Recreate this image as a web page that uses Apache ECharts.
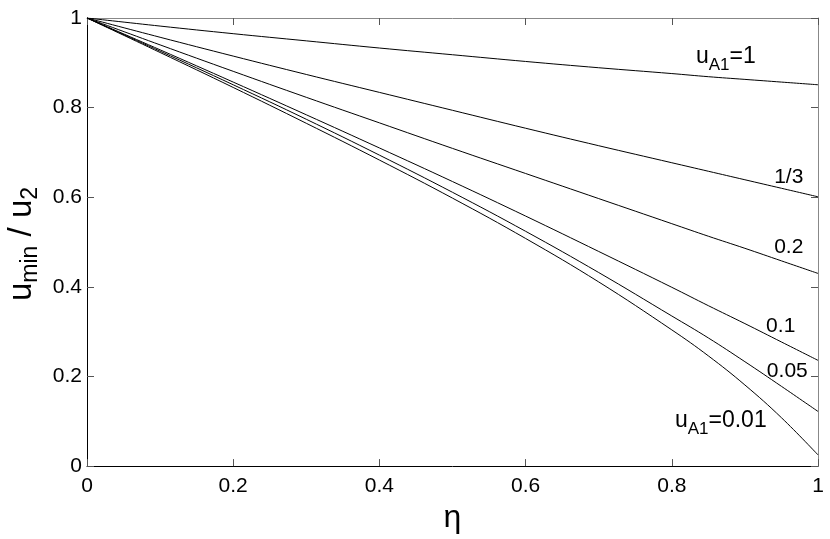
<!DOCTYPE html>
<html>
<head>
<meta charset="utf-8">
<script src="https://cdn.jsdelivr.net/npm/echarts@6/dist/echarts.min.js"></script>
<style>
  html, body { margin: 0; padding: 0; background: #fff; }
  #chart { width: 830px; height: 539px; }
</style>
</head>
<body>
<div id="chart"></div>
<script>
// eta grid (x) and u_min/u_2 for each u_A1
var eta = [0, 0.1, 0.2, 0.3, 0.4, 0.5, 0.6, 0.7, 0.8, 0.85, 0.9, 0.95, 1];
var uA1_1    = [1, 0.982, 0.965, 0.949, 0.933, 0.918, 0.903, 0.889, 0.876, 0.869, 0.863, 0.857, 0.851];
var uA1_1_3  = [1, 0.957, 0.915, 0.874, 0.834, 0.794, 0.754, 0.715, 0.677, 0.658, 0.639, 0.620, 0.601];
var uA1_0_2  = [1, 0.940, 0.881, 0.823, 0.766, 0.709, 0.653, 0.597, 0.541, 0.513, 0.486, 0.458, 0.430];
var uA1_0_1  = [1, 0.929, 0.857, 0.784, 0.710, 0.635, 0.558, 0.479, 0.399, 0.358, 0.318, 0.277, 0.236];
var uA1_0_05 = [1, 0.926, 0.851, 0.774, 0.694, 0.611, 0.524, 0.432, 0.335, 0.286, 0.233, 0.178, 0.122];
var uA1_0_01 = [1, 0.923, 0.845, 0.765, 0.683, 0.598, 0.508, 0.411, 0.304, 0.246, 0.181, 0.108, 0.025];

var curves = [uA1_1, uA1_1_3, uA1_0_2, uA1_0_1, uA1_0_05, uA1_0_01];
var curveLabels = ["{m|u}{s|A1}{m|=1}", "{n|1/3}", "{n|0.2}", "{n|0.1}", "{n|0.05}", "{m|u}{s|A1}{m|=0.01}"];
var labelAt = [[0.874, 0.913], [0.960, 0.645], [0.960, 0.489], [0.949, 0.313], [0.958, 0.212], [0.867, 0.101]];

var xMin = 0, xMax = 1, xStep = 0.2;
var yMin = 0, yMax = 1, yStep = 0.2;

var FONT = "Liberation Sans, Arial, Helvetica, sans-serif";

var labelRich = {
  m: { fontFamily: FONT, fontSize: 23, color: "#000" },
  s: { fontFamily: FONT, fontSize: 17, color: "#000", padding: [17, 0, 0, 0] },
  n: { fontFamily: FONT, fontSize: 21, color: "#000" },
};

var myChart = echarts.init(document.getElementById("chart"));

var series = [];
for (var i = 0; i < curves.length; i++) {
  var pts = [];
  for (var j = 0; j < eta.length; j++) { pts.push([eta[j], curves[i][j]]); }
  series.push({
    type: "line",
    data: pts,
    showSymbol: false,
    smooth: 0.4,
    silent: true,
    lineStyle: { color: "#000", width: 1 },
    markPoint: {
      symbol: "circle",
      symbolSize: 0,
      silent: true,
      data: [{ coord: labelAt[i], value: 0 }],
      label: {
        show: true,
        position: "inside",
        formatter: curveLabels[i],
        rich: labelRich,
      },
    },
  });
}

function tick() {
  return { show: true, inside: true, length: 7, lineStyle: { color: "#555", width: 1 } };
}

var option = {
  animation: false,
  backgroundColor: "#fff",
  grid: { left: 87, right: 12, top: 18, bottom: 70 },
  xAxis: [
    {
      type: "value",
      position: "bottom",
      min: xMin, max: xMax, interval: xStep,
      name: "η",
      nameLocation: "middle",
      nameGap: 29,
      nameTextStyle: { fontFamily: FONT, fontSize: 32, color: "#000" },
      axisLine: { show: true, onZero: false, lineStyle: { color: "#000", width: 1 } },
      axisTick: tick(),
      axisLabel: { fontFamily: FONT, fontSize: 21, color: "#000", margin: 10 },
      splitLine: { show: false },
    },
    {
      type: "value",
      position: "top",
      min: xMin, max: xMax, interval: xStep,
      axisLine: { show: true, onZero: false, lineStyle: { color: "#888", width: 1 } },
      axisTick: tick(),
      axisLabel: { show: false },
      splitLine: { show: false },
    },
  ],
  yAxis: [
    {
      type: "value",
      position: "left",
      min: yMin, max: yMax, interval: yStep,
      axisLine: { show: true, onZero: false, lineStyle: { color: "#000", width: 1 } },
      axisTick: tick(),
      axisLabel: { fontFamily: FONT, fontSize: 21, color: "#000", margin: 5 },
      splitLine: { show: false },
    },
    {
      type: "value",
      position: "right",
      min: yMin, max: yMax, interval: yStep,
      axisLine: { show: true, onZero: false, lineStyle: { color: "#888", width: 1 } },
      axisTick: tick(),
      axisLabel: { show: false },
      splitLine: { show: false },
    },
  ],
  graphic: [
    {
      type: "text",
      x: 22,
      y: 244,
      rotation: Math.PI / 2,
      silent: true,
      style: {
        text: "{m|u}{s|min}{m| / u}{s|2}",
        align: "center",
        verticalAlign: "middle",
        rich: {
          m: { fontFamily: FONT, fontSize: 33, fill: "#000" },
          s: { fontFamily: FONT, fontSize: 23, fill: "#000", padding: [18, 0, 0, 0] },
        },
      },
    },
  ],
  series: series,
};

myChart.setOption(option);
</script>
</body>
</html>
